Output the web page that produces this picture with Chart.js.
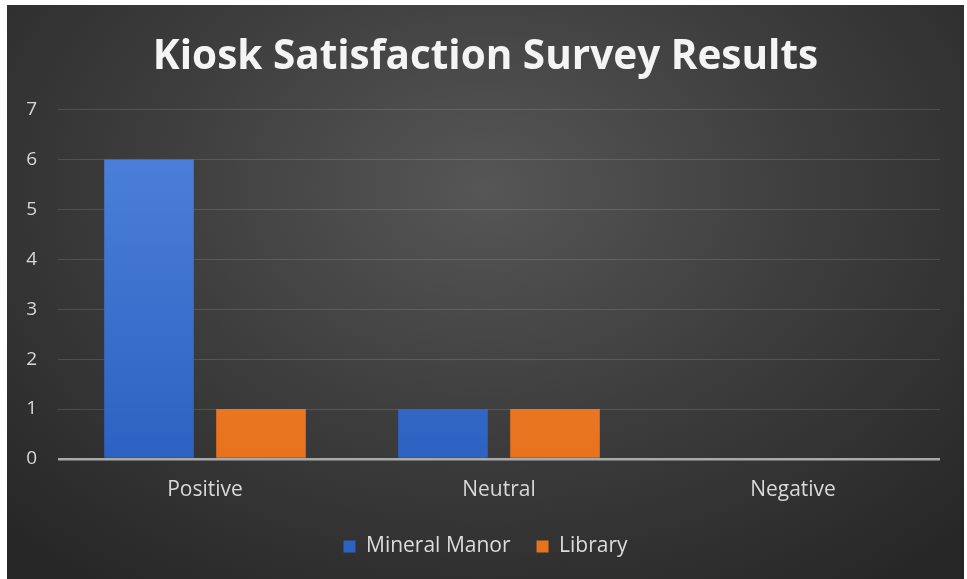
<!DOCTYPE html>
<html>
<head>
<meta charset="utf-8">
<script src="https://cdn.jsdelivr.net/npm/chart.js@4"></script>
<style>
  html, body { margin: 0; padding: 0; background: #fff; }
  #wrap {
    position: absolute; left: 7px; top: 5px; width: 957px; height: 574px;
    background: radial-gradient(ellipse 70% 85% at 50% 32%, #565656 0%, #3d3d3d 50%, #272727 100%);
  }
</style>
</head>
<body>
<div id="wrap"><canvas id="myChart"></canvas></div>
<script>
const categories = ["Positive", "Neutral", "Negative"];
const mineralManor = [6, 1, 0];
const library = [1, 1, 0];
const yTicks = [0, 1, 2, 3, 4, 5, 6, 7];

const fontName = "'Open Sans', 'Liberation Sans', sans-serif";

// vertical gradient for each bar colour
const barFill = (top, bottom) => (context) => {
  const chart = context.chart;
  const area = chart.chartArea;
  if (!area) return bottom;
  const g = chart.ctx.createLinearGradient(0, area.top, 0, area.bottom);
  g.addColorStop(0, top);
  g.addColorStop(1, bottom);
  return g;
};

const ctx = document.getElementById("myChart");

new Chart(ctx, {
  type: "bar",
  data: {
    labels: categories,
    datasets: [
      {
        label: "Mineral Manor",
        data: mineralManor,
        backgroundColor: barFill("#4f83dc", "#2e62c2"),
        borderWidth: 0,
      },
      {
        label: "Library",
        data: library,
        backgroundColor: barFill("#f58f42", "#e8721c"),
        borderWidth: 0,
      },
    ],
  },
  options: {
    responsive: true,
    maintainAspectRatio: false,
    animation: false,
    categoryPercentage: 0.762,
    barPercentage: 0.8,
    layout: { padding: { left: 0, right: 0, top: 0, bottom: 12 } },
    plugins: {
      title: {
        display: true,
        text: "Kiosk Satisfaction Survey Results",
        color: "#f4f4f4",
        font: { family: fontName, size: 40.5, weight: "bold" },
        padding: { top: 28, bottom: 28 },
      },
      legend: {
        position: "bottom",
        labels: {
          color: "#dcdcdc",
          font: { family: fontName, size: 21 },
          boxWidth: 12,
          boxHeight: 12,
          padding: 26,
        },
      },
      tooltip: { enabled: false },
    },
    scales: {
      x: {
        grid: { display: false, drawTicks: false },
        border: { display: false },
        afterFit: (axis) => {
          axis.height = 51;
        },
        ticks: {
          color: "#d8d8d8",
          font: { family: fontName, size: 21 },
          padding: 18,
        },
      },
      y: {
        min: 0,
        max: 7,
        afterBuildTicks: (axis) => {
          axis.ticks = yTicks.map((v) => ({ value: v }));
        },
        afterFit: (axis) => {
          axis.width = 51;
        },
        border: { display: false },
        grid: {
          color: (c) => (c.tick.value === 0 ? "#a9a9a9" : "rgba(255,255,255,0.13)"),
          lineWidth: (c) => (c.tick.value === 0 ? 2.5 : 1),
          drawTicks: false,
        },
        ticks: {
          color: "#d8d8d8",
          font: { family: fontName, size: 19 },
          padding: 21,
        },
      },
      // empty strip on the right so the plot ends short of the edge
      yRight: {
        position: "right",
        grid: { display: false },
        border: { display: false },
        ticks: { display: false },
        afterFit: (axis) => {
          axis.width = 24;
        },
      },
    },
  },
});
</script>
</body>
</html>
